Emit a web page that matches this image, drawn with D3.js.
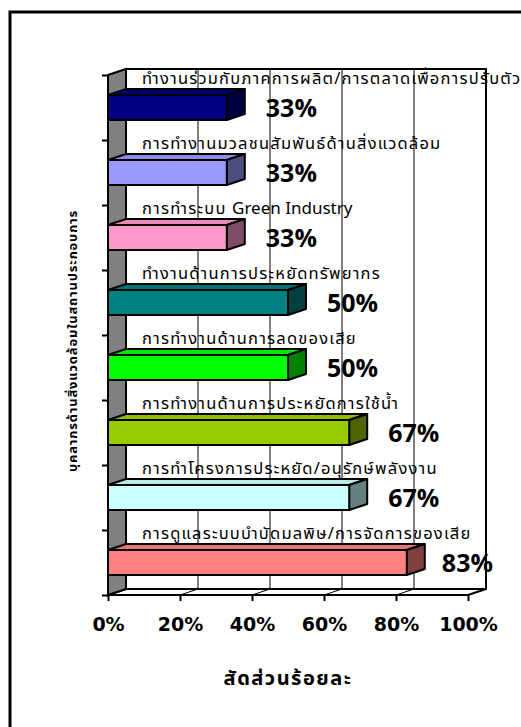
<!DOCTYPE html>
<html>
<head>
<meta charset="utf-8">
<script src="https://cdn.jsdelivr.net/npm/d3@7/dist/d3.min.js"></script>
<style>
  html, body { margin: 0; padding: 0; background: #fff; }
  svg { display: block; }
  text { font-family: Tahoma, "Noto Sans Thai", "Noto Sans", "DejaVu Sans", sans-serif; }
</style>
</head>
<body>
<svg id="chart" width="521" height="727"></svg>
<script>
// Environmental staff activities in establishments (percent)
const categories = [
  "ทำงานร่วมกับภาคการผลิต/การตลาดเพื่อการปรับตัว",
  "การทำงานมวลชนสัมพันธ์ด้านสิ่งแวดล้อม",
  "การทำระบบ Green Industry",
  "ทำงานด้านการประหยัดทรัพยากร",
  "การทำงานด้านการลดของเสีย",
  "การทำงานด้านการประหยัดการใช้น้ำ",
  "การทำโครงการประหยัด/อนุรักษ์พลังงาน",
  "การดูแลระบบบำบัดมลพิษ/การจัดการของเสีย"
];
const values = [33, 33, 33, 50, 50, 67, 67, 83];
const frontColors = ["#000080", "#9999ff", "#ff99cc", "#008080", "#00ff00", "#99cc00", "#ccffff", "#ff8080"];
const xTicks = [0, 20, 40, 60, 80, 100];
const xTitle = "สัดส่วนร้อยละ";
const yTitle = "บุคลากรด้านสิ่งแวดล้อมในสถานประกอบการ";

const svg = d3.select("#chart");

// outer chart frame (runs off the right and bottom edges)
svg.append("rect")
  .attr("x", 10).attr("y", 12).attr("width", 530).attr("height", 740)
  .attr("fill", "none").attr("stroke", "#000").attr("stroke-width", 3);

// 3D geometry
const depthX = 18, depthY = -6;
const x = d3.scaleLinear().domain([0, 100]).range([108, 468]);
const y = d3.scaleBand().domain(categories).range([75, 595]);
const yIdx = d3.scaleLinear().domain([0, categories.length]).range([75, 595]);
const barH = 25;

const x0 = x(0), x1 = x(100), yTop = y.range()[0], yBot = y.range()[1];
const pts = a => a.map(p => p.join(",")).join(" ");

// back wall
svg.append("polygon")
  .attr("points", pts([[x0 + depthX, yTop + depthY], [x1 + depthX, yTop + depthY], [x1 + depthX, yBot + depthY], [x0 + depthX, yBot + depthY]]))
  .attr("fill", "#fff").attr("stroke", "#000").attr("stroke-width", 2);

// vertical gridlines on back wall
svg.append("g").selectAll("line").data(xTicks.slice(1, -1)).join("line")
  .attr("x1", d => x(d) + depthX).attr("x2", d => x(d) + depthX)
  .attr("y1", yTop + depthY).attr("y2", yBot + depthY)
  .attr("stroke", "#000").attr("stroke-width", 1);

// floor
svg.append("polygon")
  .attr("points", pts([[x0, yBot], [x0 + depthX, yBot + depthY], [x1 + depthX, yBot + depthY], [x1, yBot]]))
  .attr("fill", "#fff").attr("stroke", "#000").attr("stroke-width", 2);
svg.append("g").selectAll("line").data(xTicks.slice(1, -1)).join("line")
  .attr("x1", d => x(d)).attr("x2", d => x(d) + depthX)
  .attr("y1", yBot).attr("y2", yBot + depthY)
  .attr("stroke", "#000").attr("stroke-width", 1);

// left wall
svg.append("polygon")
  .attr("points", pts([[x0, yTop], [x0 + depthX, yTop + depthY], [x0 + depthX, yBot + depthY], [x0, yBot]]))
  .attr("fill", "#808080").attr("stroke", "#000").attr("stroke-width", 2);

// bars: front, top and side faces
const bars = svg.append("g").selectAll("g").data(categories).join("g");
bars.each(function (c, i) {
  const g = d3.select(this);
  const v = values[i];
  const col = d3.color(frontColors[i]);
  const yc = y(c) + y.bandwidth() / 2;
  const t = yc - barH / 2, b = yc + barH / 2;
  const xr = x(v);
  g.append("polygon")
    .attr("points", pts([[x0, t], [x0 + depthX, t + depthY], [xr + depthX, t + depthY], [xr, t]]))
    .attr("fill", col.darker(0.25)).attr("stroke", "#000").attr("stroke-width", 2).attr("stroke-linejoin", "round");
  g.append("polygon")
    .attr("points", pts([[xr, t], [xr + depthX, t + depthY], [xr + depthX, b + depthY], [xr, b]]))
    .attr("fill", d3.rgb(col.r * 0.5, col.g * 0.5, col.b * 0.5)).attr("stroke", "#000").attr("stroke-width", 2).attr("stroke-linejoin", "round");
  g.append("rect")
    .attr("x", x0).attr("y", t).attr("width", xr - x0).attr("height", barH)
    .attr("fill", col).attr("stroke", "#000").attr("stroke-width", 2);
});

// category axis ticks (band boundaries)
svg.append("g")
  .attr("transform", `translate(${x0},0)`)
  .call(d3.axisLeft(yIdx).ticks(categories.length).tickSize(6).tickFormat(""))
  .call(g => g.select(".domain").remove())
  .call(g => g.selectAll("line").attr("stroke", "#000").attr("stroke-width", 2));

// value axis
svg.append("g")
  .attr("transform", `translate(0,${yBot})`)
  .call(d3.axisBottom(x).tickValues(xTicks).tickSize(6).tickPadding(17).tickFormat(d => d + "%"))
  .call(g => g.select(".domain").remove())
  .call(g => g.selectAll("line").attr("stroke", "#000").attr("stroke-width", 2))
  .call(g => g.selectAll("text").attr("font-size", 19).attr("font-weight", "bold").attr("fill", "#000")
    .style("font-family", "Tahoma, 'DejaVu Sans', sans-serif"));

// category names above each bar; Thai and Latin runs sized separately
const runs = s => s.split(/([A-Za-z][A-Za-z ]*[A-Za-z])/).filter(r => r.length);
svg.append("g").selectAll("text").data(categories).join("text")
  .attr("x", x0 + 34).attr("y", d => y(d) + 9)
  .attr("fill", "#000")
  .each(function (d) {
    const t = d3.select(this);
    runs(d).forEach(r => {
      const latin = /[A-Za-z]/.test(r);
      t.append("tspan")
        .attr("font-size", latin ? 17 : 16.5)
        .attr("letter-spacing", latin ? 0 : 1.2)
        .text(r);
    });
  });

// value labels
svg.append("g").selectAll("text").data(categories).join("text")
  .attr("font-size", 25).attr("font-weight", "bold").attr("fill", "#000")
  .attr("y", d => y(d) + y.bandwidth() / 2)
  .attr("dy", "0.36em")
  .text((d, i) => values[i] + "%")
  .each(function (d, i) {
    const w = this.getComputedTextLength();
    let sx = x(values[i]) + depthX + 21;
    if (sx + w > 493) sx = 493 - w;
    d3.select(this).attr("x", sx);
  });

// axis titles
svg.append("text")
  .attr("x", 288).attr("y", 685).attr("text-anchor", "middle")
  .attr("font-size", 20).attr("letter-spacing", 1.5).attr("font-weight", "bold").text(xTitle);
svg.append("text")
  .attr("transform", "translate(77,341) rotate(-90)").attr("text-anchor", "middle")
  .attr("font-size", 13).attr("letter-spacing", 0.8).attr("font-weight", "bold").text(yTitle);
</script>
</body>
</html>
